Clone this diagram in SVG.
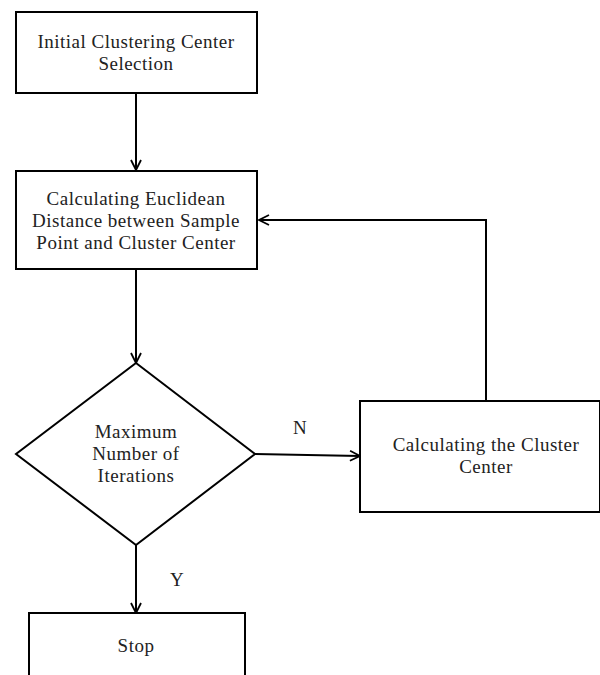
<svg xmlns="http://www.w3.org/2000/svg" width="600" height="675" viewBox="0 0 600 675">
<defs>
<marker id="arr" viewBox="0 0 12 12" refX="11" refY="6" markerWidth="12" markerHeight="12" markerUnits="userSpaceOnUse" orient="auto">
<path d="M1,1 L11,6 L1,11" fill="none" stroke="#000" stroke-width="1.8"/>
</marker>
<style>
.n{fill:#fff;stroke:#000;stroke-width:2}
.t{font-family:"Liberation Serif","DejaVu Serif",serif;font-size:19px;letter-spacing:0.5px;fill:#222;text-anchor:middle}
.c{fill:none;stroke:#000;stroke-width:2;marker-end:url(#arr)}
</style>
</defs>
<rect width="600" height="675" fill="#fff"/>
<g id="connectors">
<line class="c" x1="136" y1="93" x2="136" y2="170"/>
<line class="c" x1="136" y1="269" x2="136" y2="363"/>
<line class="c" x1="255" y1="454" x2="360" y2="456"/>
<polyline class="c" points="486,401 486,220 259,220"/>
<line class="c" x1="136" y1="545" x2="136" y2="613"/>
</g>
<g id="n1"><rect class="n" x="16" y="12" width="241" height="81"/>
<text class="t" x="136" y="48">Initial Clustering Center</text>
<text class="t" x="136" y="70">Selection</text></g>
<g id="n2"><rect class="n" x="16" y="171" width="241" height="98"/>
<text class="t" x="136" y="205">Calculating Euclidean</text>
<text class="t" x="136" y="227">Distance between Sample</text>
<text class="t" x="136" y="249">Point and Cluster Center</text></g>
<g id="n3"><polygon class="n" points="136,363 255,454 136,545 16,454"/>
<text class="t" x="136" y="438">Maximum</text>
<text class="t" x="136" y="460">Number of</text>
<text class="t" x="136" y="482">Iterations</text></g>
<g id="n4"><rect class="n" x="360" y="401" width="240" height="111"/>
<text class="t" x="486" y="451">Calculating the Cluster</text>
<text class="t" x="486" y="473">Center</text></g>
<g id="n5"><rect class="n" x="29" y="613" width="216" height="70"/>
<text class="t" x="136" y="652">Stop</text></g>
<g id="labels">
<text class="t" x="300" y="434">N</text>
<text class="t" x="177" y="586">Y</text>
</g>
</svg>
